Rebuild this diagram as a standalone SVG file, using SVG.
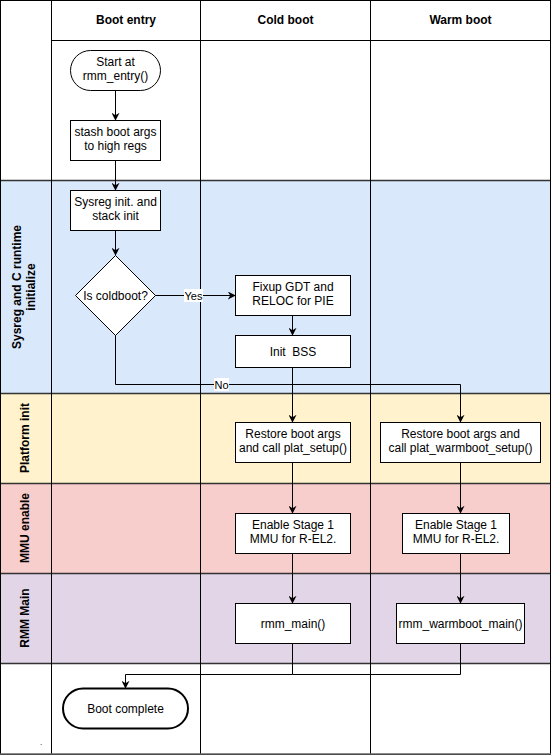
<svg xmlns="http://www.w3.org/2000/svg" width="551" height="755" viewBox="0 0 551 755">
<style>
text{font-family:"Liberation Sans",Arial,sans-serif;font-size:12px;fill:#000;text-anchor:middle}
.h{font-weight:bold}
.box{fill:#fff;stroke:#000;stroke-width:1}
.grid{stroke:#000;stroke-width:1;fill:none}
.lane{stroke:#333;stroke-width:1.5}
.c{fill:none;stroke:#000;stroke-width:1;marker-end:url(#a)}
.cn{fill:none;stroke:#000;stroke-width:1}
.lbl{fill:#fff}
</style>
<defs>
<marker id="a" viewBox="0 0 10 10" refX="9" refY="5" markerWidth="8" markerHeight="8" markerUnits="userSpaceOnUse" orient="auto">
<path d="M0,0 L10,5 L0,10 L3,5 Z" fill="#000"/>
</marker>
</defs>
<rect x="0" y="0" width="551" height="755" fill="#fff"/>
<g id="lanes">
<rect x="0.5" y="180" width="550" height="213" fill="#dae8fc"/>
<rect x="0.5" y="393" width="550" height="90" fill="#fff2cc"/>
<rect x="0.5" y="483" width="550" height="90" fill="#f8cecc"/>
<rect x="0.5" y="573" width="550" height="90" fill="#e1d5e7"/>
<line class="grid" x1="51" y1="40.5" x2="550" y2="40.5"/>
<line class="lane" x1="0" y1="180.5" x2="551" y2="180.5"/>
<line class="lane" x1="0" y1="393.5" x2="551" y2="393.5"/>
<line class="lane" x1="0" y1="483.5" x2="551" y2="483.5"/>
<line class="lane" x1="0" y1="573.5" x2="551" y2="573.5"/>
<line class="lane" x1="0" y1="663.5" x2="551" y2="663.5"/>
<line class="grid" x1="51.5" y1="0" x2="51.5" y2="755"/>
<line class="grid" x1="200.5" y1="0" x2="200.5" y2="755"/>
<line class="grid" x1="370.5" y1="0" x2="370.5" y2="755"/>
<rect x="0.5" y="0.5" width="550" height="754" fill="none" stroke="#000" stroke-width="1"/>
<line x1="0" y1="754" x2="551" y2="754" stroke="#666" stroke-width="1.5"/>
<text class="h" x="126" y="24">Boot entry</text>
<text class="h" x="285.5" y="24">Cold boot</text>
<text class="h" x="460.5" y="24">Warm boot</text>
<text class="h" transform="translate(24,287) rotate(-90)"><tspan x="0" y="-3">Sysreg and C runtime</tspan><tspan x="0" y="11">initialize</tspan></text>
<text class="h" transform="translate(29,438) rotate(-90)" x="0" y="0">Platform init</text>
<text class="h" transform="translate(29,528) rotate(-90)" x="0" y="0">MMU enable</text>
<text class="h" transform="translate(29,618) rotate(-90)" x="0" y="0">RMM Main</text>
<text x="41" y="745" style="font-size:8px">.</text>
</g>
<g id="connectors">
<path class="c" d="M115.5,90 V120"/>
<path class="c" d="M115.5,160 V190"/>
<path class="c" d="M115.5,230 V255"/>
<path class="c" d="M155,295.5 H235"/>
<path class="c" d="M292.5,315 V335"/>
<path class="c" d="M292.5,367 V422"/>
<path class="c" d="M115.5,335 V384.5 H460.5 V422"/>
<path class="c" d="M292.5,462 V513"/>
<path class="c" d="M460.5,462 V513"/>
<path class="c" d="M292.5,553 V603"/>
<path class="c" d="M460.5,553 V603"/>
<path class="c" d="M292.5,643 V674.5 H125.5 V688"/>
<path class="cn" d="M460.5,643 V674.5 H292.5"/>
<rect class="lbl" x="184" y="289" width="19" height="13"/>
<text x="193.5" y="299.5" style="font-size:11px">Yes</text>
<rect class="lbl" x="214" y="378" width="15" height="13"/>
<text x="221.5" y="388.5" style="font-size:11px">No</text>
</g>
<g id="start"><rect class="box" x="70.5" y="50.5" width="90" height="40" rx="20" ry="20"/><text x="115.5" y="66">Start at</text><text x="115.5" y="80">rmm_entry()</text></g>
<g id="stash"><rect class="box" x="70.5" y="120.5" width="90" height="40"/><text x="115.5" y="136">stash boot args</text><text x="115.5" y="150">to high regs</text></g>
<g id="sysreg"><rect class="box" x="70.5" y="190.5" width="90" height="40"/><text x="115.5" y="206">Sysreg init. and</text><text x="115.5" y="220">stack init</text></g>
<g id="coldboot"><path class="box" d="M115.5,255.5 L155.5,295.5 L115.5,335.5 L75.5,295.5 Z"/><text x="115.5" y="300">Is coldboot?</text></g>
<g id="fixup"><rect class="box" x="235.5" y="275.5" width="115" height="40"/><text x="293" y="291">Fixup GDT and</text><text x="293" y="305">RELOC for PIE</text></g>
<g id="bss"><rect class="box" x="235.5" y="335.5" width="115" height="32"/><text x="293" y="356" xml:space="preserve">Init  BSS</text></g>
<g id="restore_cold"><rect class="box" x="235.5" y="422.5" width="115" height="40"/><text x="293" y="438">Restore boot args</text><text x="293" y="452">and call plat_setup()</text></g>
<g id="restore_warm"><rect class="box" x="380.5" y="422.5" width="160" height="40"/><text x="460.5" y="438">Restore boot args and</text><text x="460.5" y="452">call plat_warmboot_setup()</text></g>
<g id="mmu_cold"><rect class="box" x="235.5" y="513.5" width="115" height="40"/><text x="293" y="529">Enable Stage 1</text><text x="293" y="543">MMU for R-EL2.</text></g>
<g id="mmu_warm"><rect class="box" x="402.5" y="513.5" width="107" height="40"/><text x="456" y="529">Enable Stage 1</text><text x="456" y="543">MMU for R-EL2.</text></g>
<g id="rmm_main"><rect class="box" x="235.5" y="603.5" width="115" height="40"/><text x="293" y="628">rmm_main()</text></g>
<g id="rmm_warm"><rect class="box" x="396.5" y="603.5" width="128" height="40"/><text x="460.5" y="628">rmm_warmboot_main()</text></g>
<g id="complete"><rect x="63" y="688.5" width="125" height="40" rx="20" ry="20" fill="#fff" stroke="#000" stroke-width="2"/><text x="125.5" y="713">Boot complete</text></g>
</svg>
